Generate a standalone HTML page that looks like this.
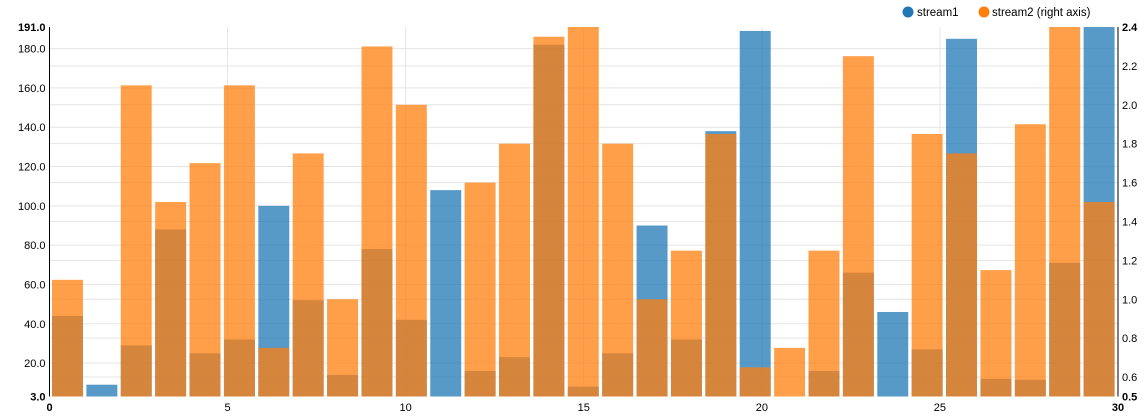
<!DOCTYPE html>
<html><head><meta charset="utf-8"><style>
html,body{margin:0;padding:0;background:#fff;}
svg{display:block;font-family:"Liberation Sans",Arial,sans-serif;}
</style></head><body>
<svg id="chart" width="1147" height="416" xmlns="http://www.w3.org/2000/svg">
<g id="grid"></g>
<g id="bars"></g>
<g id="axes"></g>
<g id="legend">
  <circle cx="908" cy="12" r="5.5" fill="#1f77b4"/>
  <text x="917" y="16" font-size="11.5" fill="#000">stream1</text>
  <circle cx="984" cy="12" r="5.5" fill="#ff7f0e"/>
  <text x="992" y="16" font-size="11.5" fill="#000">stream2 (right axis)</text>
</g>
</svg>
<script>
const stream1 = [44,9,29,88,25,32,100,52,14,78,42,108,16,23,182,8,25,90,32,138,189,3,16,66,46,27,185,12,11.5,71,191];
const stream2 = [1.10,0.5,2.10,1.50,1.70,2.10,0.75,1.75,1.0,2.30,2.0,0.5,1.60,1.80,2.35,2.4,1.80,1.0,1.25,1.85,0.65,0.75,1.25,2.25,0.5,1.85,1.75,1.15,1.9,2.4,1.5];
const leftTicks = [20,40,60,80,100,120,140,160,180];
const rightTicks = [0.6,0.8,1.0,1.2,1.4,1.6,1.8,2.0,2.2];
const xTicks = [5,10,15,20,25];
const leftDomain = [3,191];
const rightDomain = [0.5,2.4];
const xDomain = [0,30];

const NS='http://www.w3.org/2000/svg';
const pTop=27, pBottom=396.5, pLeft=49.5, pRight=1118;
const yL=v=>pBottom-(v-leftDomain[0])/(leftDomain[1]-leftDomain[0])*(pBottom-pTop);
const yR=v=>pBottom-(v-rightDomain[0])/(rightDomain[1]-rightDomain[0])*(pBottom-pTop);
const xT=v=>pLeft+(v-xDomain[0])/(xDomain[1]-xDomain[0])*(pRight-pLeft);
const nBars=stream1.length, bandStart=52, step=(pRight-bandStart)/nBars, bw=step*0.9;
function mk(tag,attrs,parent,txt){const e=document.createElementNS(NS,tag);for(const k in attrs)e.setAttribute(k,attrs[k]);if(txt!==undefined)e.textContent=txt;parent.appendChild(e);return e;}
const grid=document.getElementById('grid'),bars=document.getElementById('bars'),axes=document.getElementById('axes');
leftTicks.forEach(t=>{const l=mk('line',{x1:pLeft,x2:pRight,y1:yL(t),y2:yL(t),stroke:'#e5e5e5'},grid);

});
rightTicks.forEach(t=>{const l=mk('line',{x1:pLeft,x2:pRight,y1:yR(t),y2:yR(t),stroke:'#e5e5e5'},grid);

});
xTicks.forEach(t=>{const l=mk('line',{x1:xT(t),x2:xT(t),y1:pTop,y2:pBottom,stroke:'#e5e5e5'},grid);

});
stream1.forEach((v,i)=>{const r=mk('rect',{x:bandStart+i*step,y:yL(v),width:bw,height:pBottom-yL(v),fill:'#1f77b4','fill-opacity':0.75},bars);

});
stream2.forEach((v,i)=>{const r=mk('rect',{x:bandStart+i*step,y:yR(v),width:bw,height:pBottom-yR(v),fill:'#ff7f0e','fill-opacity':0.75},bars);

});
let a=mk('line',{x1:pLeft,x2:pLeft,y1:pTop,y2:pBottom,stroke:'#000'},axes);


a=mk('line',{x1:pRight,x2:pRight,y1:pTop,y2:pBottom,stroke:'#000'},axes);


leftTicks.forEach(t=>{const e=mk('text',{x:pLeft-4,y:yL(t)+4,'text-anchor':'end','font-size':11},axes,t.toFixed(1));

});
leftDomain.forEach(t=>{const e=mk('text',{x:pLeft-4,y:yL(t)+4,'text-anchor':'end','font-size':11,'font-weight':'bold'},axes,t.toFixed(1));

});
rightTicks.forEach(t=>{const e=mk('text',{x:pRight+4,y:yR(t)+4,'font-size':11},axes,t.toFixed(1));

});
rightDomain.forEach(t=>{const e=mk('text',{x:pRight+4,y:yR(t)+4,'font-size':11,'font-weight':'bold'},axes,t.toFixed(1));

});
xTicks.forEach(t=>{const e=mk('text',{x:xT(t),y:411,'text-anchor':'middle','font-size':11},axes,String(t));

});
xDomain.forEach(t=>{const e=mk('text',{x:xT(t),y:411,'text-anchor':'middle','font-size':11,'font-weight':'bold'},axes,String(t));

});
</script>
</body></html>
